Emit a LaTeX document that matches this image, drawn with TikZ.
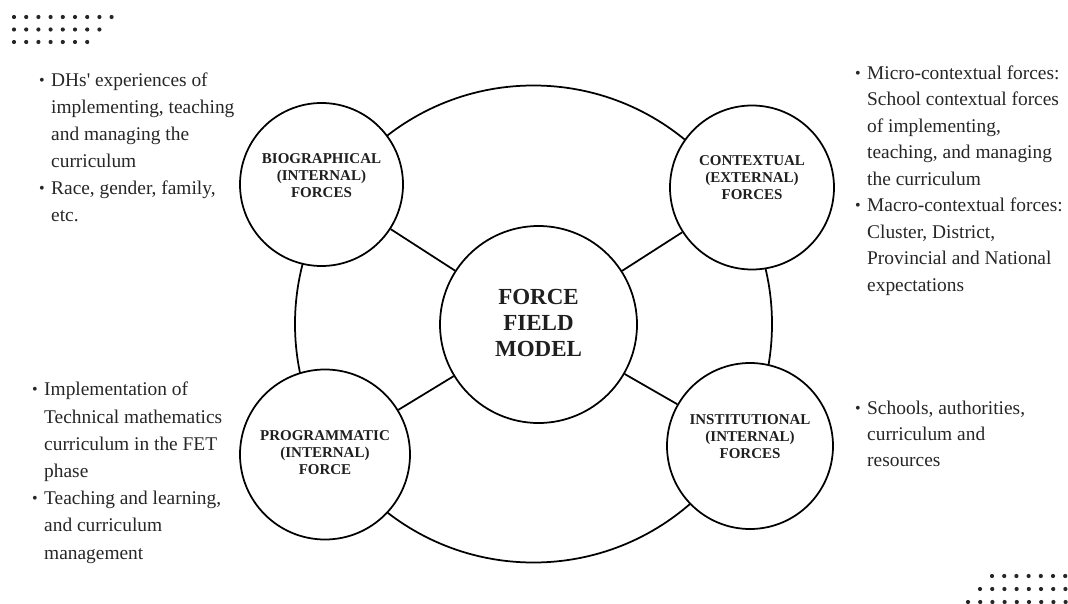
\documentclass[tikz,border=0pt]{standalone}
\usepackage{fontspec}
\setmainfont{Liberation Serif}[Ligatures=TeXOff]
\begin{document}
\begin{tikzpicture}[x=1pt,y=-1pt,
  ring/.style={circle,draw=black,line width=1.75pt,inner sep=0pt},
  force/.style={ring,fill=white},
  spoke/.style={draw=black,line width=1.75pt},
  flabel/.style={align=center,inner sep=0pt,text=black!88,
    font=\bfseries\fontsize{15}{17}\selectfont},
  notes/.style={align=left,inner sep=0pt,anchor=base west,text=black!85},
  dot/.style={fill=black!85,draw=none}]
\useasboundingbox (0,0) rectangle (1068,604);

% outer field
\node[ring,minimum size=477pt] (field) at (533.5,324) {};

% the four forces and the model
\node[force,minimum size=163pt] (bio)  at (321.5,184.5) {};
\node[force,minimum size=164pt] (ctx)  at (752,187.5) {};
\node[force,minimum size=170pt] (prog) at (325,454.5) {};
\node[force,minimum size=166pt] (inst) at (750,446) {};
\node[force,minimum size=197pt] (model) at (538.5,324.5) {};

\path[spoke] (model) -- (bio);
\path[spoke] (model) -- (ctx);
\path[spoke] (model) -- (prog);
\path[spoke] (model) -- (inst);

\node[flabel] (bio-t)  at ([yshift=8.5pt]bio.center) {BIOGRAPHICAL\\(INTERNAL)\\FORCES};
\node[flabel] (ctx-t)  at ([yshift=9.5pt]ctx.center) {CONTEXTUAL\\(EXTERNAL)\\FORCES};
\node[flabel] (prog-t) at ([yshift=2pt]prog.center) {PROGRAMMATIC\\(INTERNAL)\\FORCE};
\node[flabel] (inst-t) at ([yshift=9pt]inst.center) {INSTITUTIONAL\\(INTERNAL)\\FORCES};
\node[align=center,inner sep=0pt,text=black!88,
  font=\bfseries\fontsize{23}{26}\selectfont] (model-t)
  at ([yshift=2pt]model.center) {FORCE\\FIELD\\MODEL};

% bullet notes (each placed at the baseline of its last line)
\newcommand{\pt}{\llap{\raisebox{1pt}{\fontsize{16}{16}\selectfont\textbullet}\hspace{6.5pt}}}
\node[notes,font=\fontsize{19.4}{27}\selectfont] (bio-n) at (51,222)
  {\pt DHs' experiences of\\implementing, teaching\\and managing the\\curriculum\\
   \pt Race, gender, family,\\etc.};
\node[notes,font=\fontsize{19.4}{26.5}\selectfont] (ctx-n) at (867,291)
  {\pt Micro-contextual forces:\\School contextual forces\\of implementing,\\
   teaching, and managing\\the curriculum\\
   \pt Macro-contextual forces:\\Cluster, District,\\Provincial and National\\expectations};
\node[notes,font=\fontsize{19.4}{27.2}\selectfont] (prog-n) at (44,559)
  {\pt Implementation of\\Technical mathematics\\curriculum in the FET\\phase\\
   \pt Teaching and learning,\\and curriculum\\management};
\node[notes,font=\fontsize{19.4}{26}\selectfont] (inst-n) at (867,466)
  {\pt Schools, authorities,\\curriculum and\\resources};

% decorative dot grids
\foreach \row/\n in {0/9,1/8,2/7}
  \foreach \k in {1,...,\n}
    \fill[dot] ({14+12.2*(\k-1)},{17+12.5*\row}) circle (2.1);
\foreach \row/\n/\x in {0/7/992,1/8/980,2/9/968}
  \foreach \k in {1,...,\n}
    \fill[dot] ({\x+12.2*(\k-1)},{576+13*\row}) circle (2.1);
\end{tikzpicture}
\end{document}
